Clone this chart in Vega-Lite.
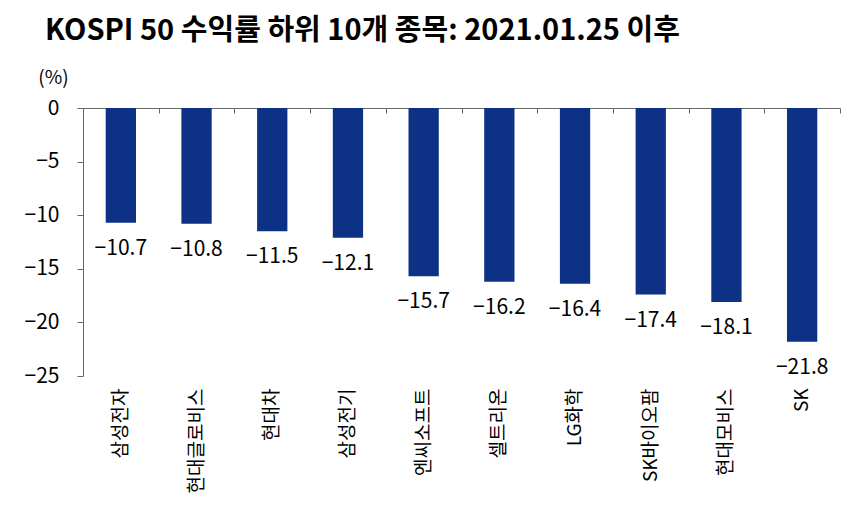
{
  "$schema": "https://vega.github.io/schema/vega-lite/v6.json",
  "width": 757,
  "height": 268,
  "autosize": "none",
  "padding": {"left": 83, "top": 108, "right": 10, "bottom": 132},
  "background": "white",
  "title": {
    "text": "KOSPI 50 수익률 하위 10개 종목: 2021.01.25 이후",
    "anchor": "start",
    "frame": "group",
    "dx": -38,
    "dy": -18,
    "font": "Noto Sans CJK KR, sans-serif",
    "fontSize": 29,
    "fontWeight": "bold",
    "color": "#000000"
  },
  "config": {
    "view": {"stroke": null},
    "font": "Noto Sans CJK KR, sans-serif",
    "axis": {"labelColor": "#000000", "titleColor": "#000000", "domainColor": "#666666", "tickColor": "#666666", "grid": false}
  },
  "data": {
    "values": [
      {"name": "삼성전자", "value": -10.7},
      {"name": "현대글로비스", "value": -10.8},
      {"name": "현대차", "value": -11.5},
      {"name": "삼성전기", "value": -12.1},
      {"name": "엔씨소프트", "value": -15.7},
      {"name": "셀트리온", "value": -16.2},
      {"name": "LG화학", "value": -16.4},
      {"name": "SK바이오팜", "value": -17.4},
      {"name": "현대모비스", "value": -18.1},
      {"name": "SK", "value": -21.8}
    ]
  },
  "resolve": {"axis": {"x": "independent"}},
  "layer": [
    {
      "mark": {"type": "bar", "color": "#0d3184", "width": {"band": 0.4}},
      "encoding": {
        "x": {
          "field": "name", "type": "nominal", "sort": null,
          "scale": {"paddingInner": 0, "paddingOuter": 0},
          "axis": {"orient": "bottom", "title": null, "domain": false, "ticks": false, "labelAngle": -90, "labelPadding": 12, "labelFontSize": 19}
        },
        "y": {
          "field": "value", "type": "quantitative",
          "scale": {"domain": [-25, 0], "nice": false},
          "axis": {"values": [0, -5, -10, -15, -20, -25], "tickSize": 6, "labelPadding": 18, "labelFontSize": 21, "title": "(%)", "titleAngle": 0, "titleX": -30, "titleY": -31, "titleAlign": "center", "titleBaseline": "middle", "titleFontSize": 19, "titleFontWeight": "normal"}
        }
      }
    },
    {
      "mark": {"type": "text", "baseline": "top", "dy": 15, "fontSize": 21, "color": "#000000"},
      "encoding": {
        "x": {"field": "name", "type": "nominal", "sort": null, "axis": null},
        "y": {"field": "value", "type": "quantitative"},
        "text": {"field": "value", "type": "quantitative", "format": ".1f"}
      }
    },
    {
      "mark": {"type": "rule", "strokeOpacity": 0},
      "encoding": {
        "x": {
          "field": "name", "type": "nominal", "sort": null,
          "axis": {"orient": "top", "title": null, "labels": false, "domain": true, "ticks": true, "tickBand": "extent", "tickSize": -5}
        }
      }
    }
  ]
}
